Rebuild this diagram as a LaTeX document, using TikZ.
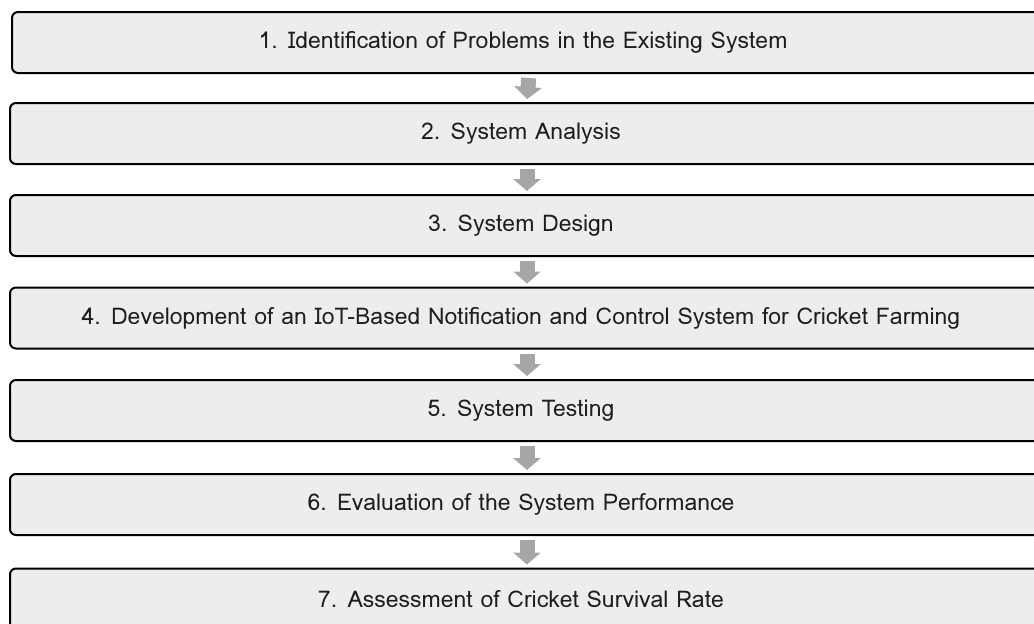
\documentclass[tikz,border=0pt]{standalone}
\usepackage{fontspec}
\setmainfont{Loma}
\usetikzlibrary{arrows.meta}
\definecolor{boxfill}{HTML}{EDEDED}
\definecolor{arrowgray}{HTML}{A6A6A6}
\definecolor{textcol}{HTML}{1E1E1E}
\begin{document}
\begin{tikzpicture}[x=1pt,y=-1pt,
  stepbox/.style={draw=black, line width=2pt, fill=boxfill, rounded corners=6pt,
    minimum width=1040pt, minimum height=61pt, inner sep=0pt,
    font=\fontsize{23}{28}\selectfont, text=textcol,
    execute at end node={\hspace{18pt}}},
  flowarrow/.style={draw=arrowgray, line width=15pt, shorten <=4pt, shorten >=3pt,
    -{Triangle[width=27pt,length=12pt]}}]
\useasboundingbox (0,0) rectangle (1034,624);
\node[stepbox] (b1) at (532,42.5) {1. Identification of Problems in the Existing System};
\node[stepbox] (b2) at (530,133.5) {2. System Analysis};
\node[stepbox] (b3) at (530,225.5) {3. System Design};
\node[stepbox] (b4) at (530,318) {4. Development of an IoT-Based Notification and Control System for Cricket Farming};
\node[stepbox] (b5) at (530,410.5) {5. System Testing};
\node[stepbox] (b6) at (530,504.5) {6. Evaluation of the System Performance};
\node[stepbox] (b7) at (530,599) {7. Assessment of Cricket Survival Rate};
\foreach \a/\b in {b1/b2,b2/b3,b3/b4,b4/b5,b5/b6,b6/b7}
  \draw[flowarrow] ([xshift=-3pt]\a.south) -- ([xshift=-3pt]\b.north);
\end{tikzpicture}
\end{document}
